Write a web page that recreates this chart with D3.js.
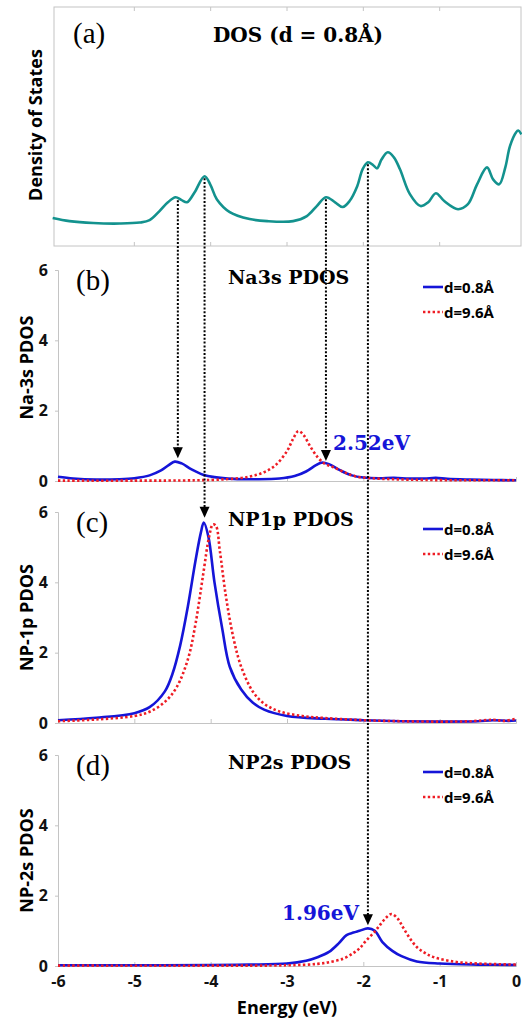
<!DOCTYPE html>
<html>
<head>
<meta charset="utf-8">
<script src="https://cdn.jsdelivr.net/npm/d3@7"></script>
<style>
  body { margin: 0; background: #fff; }
  svg { display: block; }
</style>
</head>
<body>
<div id="chart"></div>
<script>
// -----------------------------------------
// DATA
// -----------------------------------------
var xTicks = [-6, -5, -4, -3, -2, -1, 0]
var yTicks = [0, 2, 4, 6]

// (a) total DOS, arbitrary units
var dosE = [-6.07,-5.85,-5.54,-5.19,-4.93,-4.80,-4.67,-4.56,-4.46,-4.38,-4.31,-4.21,-4.08,-4.00,-3.92,-3.75,-3.49,-3.26,-2.92,-2.74,-2.61,-2.49,-2.37,-2.27,-2.18,-2.08,-2.01,-1.94,-1.87,-1.82,-1.76,-1.68,-1.60,-1.52,-1.39,-1.25,-1.15,-1.05,-0.94,-0.76,-0.63,-0.51,-0.38,-0.30,-0.22,-0.14,-0.08,0.00,0.03,0.07]
var dosV = [1.17,1.04,0.96,0.94,0.98,1.08,1.46,1.83,2.04,1.92,1.83,2.25,2.92,2.54,1.96,1.42,1.13,1.04,1.04,1.25,1.67,2.04,1.83,1.63,1.88,2.50,3.21,3.50,3.38,3.25,3.63,3.92,3.71,3.21,2.17,1.67,1.83,2.21,1.88,1.54,1.75,2.58,3.29,2.79,2.58,3.29,4.17,4.75,4.83,4.67]

// (b) Na-3s PDOS
var naBlueE = [-6.0,-5.8,-5.5,-5.2,-5.0,-4.8,-4.65,-4.55,-4.47,-4.38,-4.25,-4.1,-3.95,-3.7,-3.4,-3.1,-2.9,-2.75,-2.62,-2.55,-2.45,-2.3,-2.15,-2.0,-1.8,-1.6,-1.4,-1.2,-1.05,-0.9,-0.6,-0.3,0]
var naBlueV = [0.12,0.07,0.04,0.05,0.08,0.16,0.30,0.45,0.55,0.50,0.33,0.18,0.11,0.06,0.05,0.07,0.14,0.27,0.45,0.52,0.48,0.30,0.16,0.10,0.08,0.09,0.07,0.07,0.09,0.06,0.04,0.03,0.02]
var naRedE = [-6,-5,-4.2,-3.8,-3.5,-3.3,-3.15,-3.0,-2.92,-2.85,-2.78,-2.7,-2.6,-2.5,-2.4,-2.25,-2.1,-1.9,-1.6,-1.2,-0.6,0]
var naRedV = [0.01,0.01,0.02,0.05,0.12,0.25,0.45,0.85,1.20,1.42,1.30,1.00,0.68,0.48,0.40,0.25,0.13,0.08,0.05,0.03,0.02,0.02]

// (c) NP-1p PDOS
var p1BlueE = [-6,-5.5,-5.0,-4.8,-4.6,-4.5,-4.4,-4.3,-4.2,-4.13,-4.09,-4.03,-3.95,-3.85,-3.75,-3.6,-3.45,-3.3,-3.0,-2.5,-2.0,-1.5,-1.0,-0.5,-0.3,-0.1,0]
var p1BlueV = [0.08,0.15,0.28,0.45,0.90,1.40,2.20,3.30,4.60,5.40,5.70,5.30,4.00,2.70,1.60,0.95,0.58,0.38,0.20,0.12,0.08,0.05,0.04,0.05,0.08,0.06,0.07]
var p1RedE = [-6,-5.5,-5.0,-4.8,-4.6,-4.45,-4.3,-4.2,-4.1,-4.02,-3.97,-3.93,-3.88,-3.8,-3.7,-3.6,-3.45,-3.3,-3.1,-2.8,-2.5,-2.0,-1.5,-1.0,-0.6,-0.3,-0.15,0]
var p1RedV = [0.05,0.10,0.20,0.32,0.60,1.00,1.80,2.80,4.20,5.30,5.65,5.60,4.90,3.60,2.40,1.60,0.90,0.55,0.33,0.20,0.14,0.08,0.05,0.04,0.05,0.09,0.06,0.12]

// (d) NP-2s PDOS
var s2BlueE = [-6,-5,-4,-3.5,-3.0,-2.75,-2.6,-2.45,-2.32,-2.22,-2.13,-2.05,-1.94,-1.85,-1.75,-1.62,-1.5,-1.3,-1.0,-0.5,0]
var s2BlueV = [0.02,0.02,0.03,0.04,0.07,0.15,0.25,0.40,0.65,0.88,0.95,1.00,1.07,1.00,0.68,0.43,0.28,0.13,0.07,0.04,0.03]
var s2RedE = [-6,-4,-3,-2.6,-2.4,-2.25,-2.13,-2.05,-1.96,-1.85,-1.78,-1.7,-1.63,-1.55,-1.48,-1.4,-1.3,-1.2,-1.09,-0.8,-0.5,0]
var s2RedV = [0.01,0.01,0.02,0.06,0.13,0.22,0.37,0.50,0.73,0.98,1.17,1.38,1.48,1.35,1.10,0.82,0.54,0.38,0.26,0.12,0.07,0.04]

// arrows: energy, panel it lands on, value of the tip
var arrowE = [-4.43, -4.08, -2.49, -1.94]
var arrowPanel = [0, 1, 0, 2]
var arrowTip = [0.65, 5.84, 0.57, 1.16]

var panelTitles = ["Na3s PDOS", "NP1p PDOS", "NP2s PDOS"]
var panelLetters = ["(b)", "(c)", "(d)"]
var yLabels = ["Na-3s PDOS", "NP-1p PDOS", "NP-2s PDOS"]
var legendNames = ["d=0.8\u00c5", "d=9.6\u00c5"]

// -----------------------------------------
// FORMAT
// -----------------------------------------
var W = 522, H = 1023
var blue = "#1515d8", red = "#ee1c24", teal = "#13928e", axisGray = "#c4c4c4"
var sansF = "'Open Sans', 'DejaVu Sans', sans-serif"
var serifF = "'DejaVu Serif', serif"
var timesF = "'Liberation Serif', 'Times New Roman', serif"
var panelBottoms = [481, 723, 966]
var panelH = 211

var svg = d3.select("#chart").append("svg")
  .attr("width", W).attr("height", H)

var x = d3.scaleLinear().domain([-6, 0]).range([58, 516])

function zip(e, v){ return e.map(function(d, i){ return [d, v[i]] }) }

// -----------------------------------------
// (a) DOS
// -----------------------------------------
var yA = d3.scaleLinear().domain([0, 10]).range([246, 7])
svg.append("rect")
  .attr("x", 54).attr("y", 7).attr("width", 467).attr("height", 239)
  .style("fill", "none").style("stroke", axisGray).style("stroke-width", 1)
xTicks.slice(1, 6).forEach(function(t){
  svg.append("line").attr("x1", x(t)).attr("x2", x(t)).attr("y1", 7).attr("y2", 11)
    .style("stroke", axisGray)
  svg.append("line").attr("x1", x(t)).attr("x2", x(t)).attr("y1", 246).attr("y2", 242)
    .style("stroke", axisGray)
})
svg.append("path")
  .datum(zip(dosE, dosV))
  .attr("d", d3.line().x(function(d){ return x(d[0]) }).y(function(d){ return yA(d[1]) })
    .curve(d3.curveCatmullRom.alpha(0.5)))
  .style("fill", "none").style("stroke", teal).style("stroke-width", 2.6)

svg.append("text").attr("x", 73).attr("y", 43).text("(a)")
  .style("font-family", timesF).style("font-size", "29px")
svg.append("text").attr("x", 213).attr("y", 42).text("DOS (d = 0.8\u00c5)")
  .style("font-family", serifF).style("font-weight", "bold").style("font-size", "20px")
svg.append("text")
  .attr("transform", "translate(42," + 125 + ") rotate(-90)")
  .attr("text-anchor", "middle").text("Density of States")
  .style("font-family", sansF).style("font-weight", "bold").style("font-size", "18px")

// -----------------------------------------
// (b)(c)(d) PDOS panels
// -----------------------------------------
var series = [
  [zip(naBlueE, naBlueV), zip(naRedE, naRedV)],
  [zip(p1BlueE, p1BlueV), zip(p1RedE, p1RedV)],
  [zip(s2BlueE, s2BlueV), zip(s2RedE, s2RedV)]
]
var yScales = []

panelBottoms.forEach(function(b, i){
  var y = d3.scaleLinear().domain([0, 6]).range([b, b - panelH])
  yScales.push(y)
  var g = svg.append("g")

  // y axis
  var ya = g.append("g").attr("transform", "translate(58,0)")
    .call(d3.axisLeft(y).tickValues(yTicks).tickSize(3).tickPadding(7).tickFormat(d3.format("d")))
  ya.select(".domain").style("stroke", axisGray)
  ya.selectAll(".tick line").style("stroke", axisGray)
  ya.selectAll("text").style("font-family", sansF).style("font-weight", "bold")
    .style("font-size", "16px").style("fill", "#111")

  // x axis (ticks inside)
  var xa = g.append("g").attr("transform", "translate(0," + b + ")")
    .call(d3.axisTop(x).tickValues(xTicks).tickSize(4).tickFormat(""))
  xa.select(".domain").style("stroke", axisGray)
  xa.selectAll(".tick line").style("stroke", axisGray)
  if (i == 2) {
    var xb = g.append("g").attr("transform", "translate(0," + b + ")")
      .call(d3.axisBottom(x).tickValues(xTicks).tickSize(0).tickPadding(10)
        .tickFormat(function(d){ return d == 0 ? "0" : "-" + Math.abs(d) }))
    xb.select(".domain").remove()
    xb.selectAll("text").style("font-family", sansF).style("font-weight", "bold")
      .style("font-size", "16px").style("fill", "#111")
  }

  // y label
  g.append("text")
    .attr("transform", "translate(33," + (b - panelH / 2 - (i == 0 ? 8 : 0)) + ") rotate(-90)")
    .attr("text-anchor", "middle").text(yLabels[i])
    .style("font-family", sansF).style("font-weight", "bold").style("font-size", "18px")

  var line = d3.line().x(function(d){ return x(d[0]) }).y(function(d){ return y(d[1]) })
    .curve(d3.curveCatmullRom.alpha(0.5))
  g.append("path").datum(series[i][0]).attr("d", line)
    .style("fill", "none").style("stroke", blue).style("stroke-width", 2.6)
  g.append("path").datum(series[i][1]).attr("d", line)
    .style("fill", "none").style("stroke", red).style("stroke-width", 2.6)
    .style("stroke-dasharray", "2.4,2.4")

  // letter + title
  g.append("text").attr("x", 76).attr("y", b - panelH + 20).text(panelLetters[i])
    .style("font-family", timesF).style("font-size", "29px")
  g.append("text").attr("x", 228).attr("y", b - panelH + 14).text(panelTitles[i])
    .style("font-family", serifF).style("font-weight", "bold").style("font-size", "19px")

  // legend
  var lx = 423, ly = b - panelH + 17
  g.append("line").attr("x1", lx).attr("x2", lx + 20).attr("y1", ly).attr("y2", ly)
    .style("stroke", blue).style("stroke-width", 2.6)
  g.append("line").attr("x1", lx).attr("x2", lx + 20).attr("y1", ly + 25).attr("y2", ly + 25)
    .style("stroke", red).style("stroke-width", 2.6).style("stroke-dasharray", "2.4,2.4")
  g.append("text").attr("x", lx + 21).attr("y", ly + 6).text(legendNames[0])
    .style("font-family", sansF).style("font-weight", "bold").style("font-size", "15px")
  g.append("text").attr("x", lx + 21).attr("y", ly + 31).text(legendNames[1])
    .style("font-family", sansF).style("font-weight", "bold").style("font-size", "15px")
})

// energy labels
svg.append("text").attr("x", 333).attr("y", 450).text("2.52eV")
  .style("font-family", serifF).style("font-weight", "bold").style("font-size", "20px")
  .style("fill", blue)
svg.append("text").attr("x", 282).attr("y", 920).text("1.96eV")
  .style("font-family", serifF).style("font-weight", "bold").style("font-size", "20px")
  .style("fill", blue)

svg.append("text").attr("x", 287).attr("y", 1014).attr("text-anchor", "middle")
  .text("Energy (eV)")
  .style("font-family", sansF).style("font-weight", "bold").style("font-size", "18px")

// -----------------------------------------
// dotted arrows from DOS peaks to PDOS peaks
// -----------------------------------------
function dosAt(e){
  var i = d3.bisectLeft(dosE, e)
  var e0 = dosE[i - 1], e1 = dosE[i]
  return dosV[i - 1] + (dosV[i] - dosV[i - 1]) * (e - e0) / (e1 - e0)
}
arrowE.forEach(function(e, i){
  var ax = x(e)
  var y0 = yA(dosAt(e)) + 2
  var tip = yScales[arrowPanel[i]](arrowTip[i])
  svg.append("line").attr("x1", ax).attr("x2", ax).attr("y1", y0).attr("y2", tip - 8)
    .style("stroke", "#000").style("stroke-width", 2).style("stroke-dasharray", "2,1.8")
  svg.append("path")
    .attr("d", "M" + (ax - 5) + "," + (tip - 11) + "L" + (ax + 5) + "," + (tip - 11) + "L" + ax + "," + tip + "Z")
    .style("fill", "#000")
})
</script>
</body>
</html>
